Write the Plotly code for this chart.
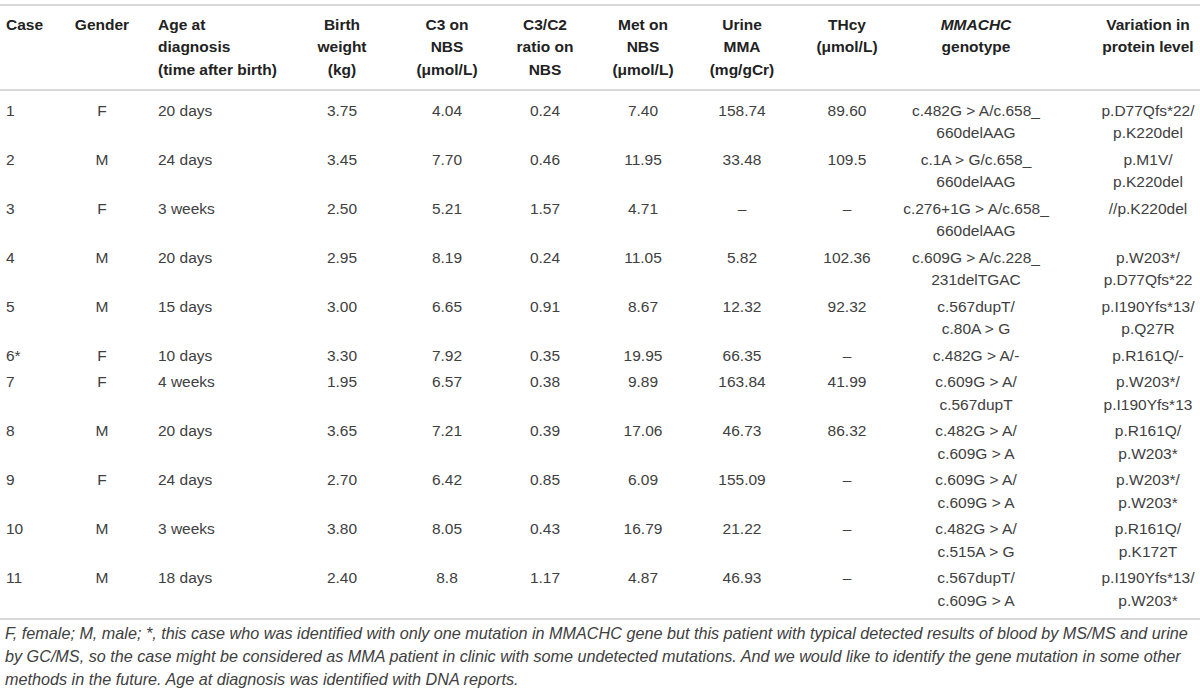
import plotly.graph_objects as go

# ---------------------------------------------
# Datos de la tabla (un valor por caso)
# ---------------------------------------------
header = [
    ["Case"],
    ["Gender"],
    ["Age at", "diagnosis", "(time after birth)"],
    ["Birth", "weight", "(kg)"],
    ["C3 on", "NBS", "(μmol/L)"],
    ["C3/C2", "ratio on", "NBS"],
    ["Met on", "NBS", "(μmol/L)"],
    ["Urine", "MMA", "(mg/gCr)"],
    ["THcy", "(μmol/L)"],
    ["<i>MMACHC</i>", "genotype"],
    ["Variation in", "protein level"],
]

cases = ["1", "2", "3", "4", "5", "6*", "7", "8", "9", "10", "11"]
gender = ["F", "M", "F", "M", "M", "F", "F", "M", "F", "M", "M"]
age = ["20 days", "24 days", "3 weeks", "20 days", "15 days", "10 days",
       "4 weeks", "20 days", "24 days", "3 weeks", "18 days"]
birth_weight = ["3.75", "3.45", "2.50", "2.95", "3.00", "3.30",
                "1.95", "3.65", "2.70", "3.80", "2.40"]
c3_nbs = ["4.04", "7.70", "5.21", "8.19", "6.65", "7.92",
          "6.57", "7.21", "6.42", "8.05", "8.8"]
c3c2_ratio = ["0.24", "0.46", "1.57", "0.24", "0.91", "0.35",
              "0.38", "0.39", "0.85", "0.43", "1.17"]
met_nbs = ["7.40", "11.95", "4.71", "11.05", "8.67", "19.95",
           "9.89", "17.06", "6.09", "16.79", "4.87"]
urine_mma = ["158.74", "33.48", "–", "5.82", "12.32", "66.35",
             "163.84", "46.73", "155.09", "21.22", "46.93"]
thcy = ["89.60", "109.5", "–", "102.36", "92.32", "–",
        "41.99", "86.32", "–", "–", "–"]
genotype = [
    ["c.482G > A/c.658_", "660delAAG"],
    ["c.1A > G/c.658_", "660delAAG"],
    ["c.276+1G > A/c.658_", "660delAAG"],
    ["c.609G > A/c.228_", "231delTGAC"],
    ["c.567dupT/", "c.80A > G"],
    ["c.482G > A/-"],
    ["c.609G > A/", "c.567dupT"],
    ["c.482G > A/", "c.609G > A"],
    ["c.609G > A/", "c.609G > A"],
    ["c.482G > A/", "c.515A > G"],
    ["c.567dupT/", "c.609G > A"],
]
protein = [
    ["p.D77Qfs*22/", "p.K220del"],
    ["p.M1V/", "p.K220del"],
    ["//p.K220del"],
    ["p.W203*/", "p.D77Qfs*22"],
    ["p.I190Yfs*13/", "p.Q27R"],
    ["p.R161Q/-"],
    ["p.W203*/", "p.I190Yfs*13"],
    ["p.R161Q/", "p.W203*"],
    ["p.W203*/", "p.W203*"],
    ["p.R161Q/", "p.K172T"],
    ["p.I190Yfs*13/", "p.W203*"],
]

footnote = [
    "F, female; M, male; *, this case who was identified with only one mutation in MMACHC gene but this patient with typical detected results of blood by MS/MS and urine",
    "by GC/MS, so the case might be considered as MMA patient in clinic with some undetected mutations. And we would like to identify the gene mutation in some other",
    "methods in the future. Age at diagnosis was identified with DNA reports.",
]

body = [cases, gender, age, birth_weight, c3_nbs, c3c2_ratio, met_nbs,
        urine_mma, thcy, genotype, protein]

# ---------------------------------------------
# Layout de la tabla (en px de la página)
# ---------------------------------------------
W, H = 1200, 693
col_x = [6, 102, 158, 342, 447, 545, 643, 742, 847, 976, 1148]
col_pos = ["middle right", "middle center", "middle right"] + ["middle center"] * 8
LINE_H = 22.5
ROW_PAD = 4
HEAD_Y0 = 26
BODY_Y0 = 112
RULES = [5, 90, 619]
FOOT_Y0 = 635

FONT = "Liberation Sans, Arial, sans-serif"
TXT = "#404040"

fig = go.Figure()

# encabezado
for c, lines in enumerate(header):
    fig.add_trace(go.Scatter(
        x=[col_x[c]] * len(lines),
        y=[HEAD_Y0 + i * LINE_H for i in range(len(lines))],
        text=[f"<b>{t}</b>" for t in lines],
        mode="text",
        textposition=col_pos[c],
        textfont=dict(family=FONT, size=15.5, color="#222222"),
        hoverinfo="skip",
        showlegend=False,
    ))

# filas: cada fila ocupa tantas líneas como su celda más larga
n_lines = []
for r in range(len(cases)):
    n = 1
    for col in body:
        if isinstance(col[r], list):
            n = max(n, len(col[r]))
    n_lines.append(n)

row_y = []
y = BODY_Y0
for n in n_lines:
    row_y.append(y)
    y += n * LINE_H + ROW_PAD

for c, col in enumerate(body):
    xs, ys, ts = [], [], []
    for r, cell in enumerate(col):
        lines = cell if isinstance(cell, list) else [cell]
        for i, t in enumerate(lines):
            xs.append(col_x[c])
            ys.append(row_y[r] + i * LINE_H)
            ts.append(t)
    fig.add_trace(go.Scatter(
        x=xs, y=ys, text=ts,
        mode="text",
        textposition=col_pos[c],
        textfont=dict(family=FONT, size=15.5, color=TXT),
        hoverinfo="skip",
        showlegend=False,
    ))

# nota al pie
fig.add_trace(go.Scatter(
    x=[5] * len(footnote),
    y=[FOOT_Y0 + i * 23 for i in range(len(footnote))],
    text=[f"<i>{t}</i>" for t in footnote],
    mode="text",
    textposition="middle right",
    textfont=dict(family=FONT, size=16.2, color=TXT),
    hoverinfo="skip",
    showlegend=False,
))

for ry in RULES:
    fig.add_shape(type="line", xref="x", yref="y", x0=0, x1=W, y0=ry, y1=ry,
                  line=dict(color="#d9d9d9", width=2))

fig.update_traces(cliponaxis=False)
fig.update_layout(
    width=W, height=H,
    margin=dict(l=0, r=0, t=0, b=0),
    paper_bgcolor="white", plot_bgcolor="white",
    xaxis=dict(range=[0, W], visible=False, fixedrange=True),
    yaxis=dict(range=[H, 0], visible=False, fixedrange=True),
)

fig.write_html("out.html", config={"displayModeBar": False},
               post_script="document.body.style.margin='0';")
